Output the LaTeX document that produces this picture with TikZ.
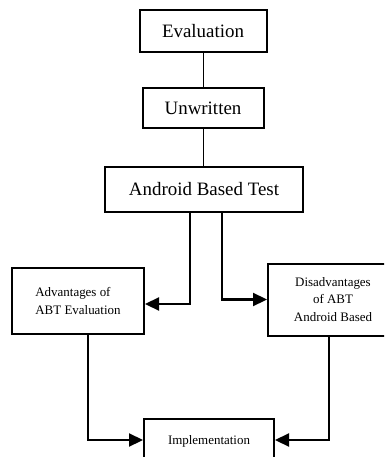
\documentclass[tikz,border=0pt]{standalone}
\usepackage{fontspec}
\setmainfont{Liberation Serif}
\usetikzlibrary{arrows.meta}
\begin{document}
\begin{tikzpicture}[x=1bp,y=-1bp,
  bigbox/.style={draw, line width=2bp, inner sep=0pt, font=\fontsize{19}{22}\selectfont},
  smallbox/.style={draw, line width=2bp, inner sep=0pt, align=center, font=\fontsize{13}{17.5}\selectfont},
  thin/.style={line width=1bp},
  arr/.style={line width=2.2bp, -{Triangle[length=14bp,width=13bp]}}]
\useasboundingbox (0,0) rectangle (384,457);
\clip (0,0) rectangle (384,457);
\node[bigbox, minimum width=127bp, minimum height=42bp] (eval) at (203,31) {Evaluation};
\node[bigbox, minimum width=121bp, minimum height=40bp] (unw) at (203,108) {Unwritten};
\node[bigbox, minimum width=198bp, minimum height=45bp] (abt) at (204,189.5) {Android Based Test};
\node[smallbox, align=left, minimum width=132bp, minimum height=66bp] (adv) at (78,301) {Advantages of\\ABT Evaluation};
\node[smallbox, minimum width=130bp, minimum height=72bp] (dis) at (333,299.5) {Disadvantages\\of ABT\\Android Based};
\node[smallbox, minimum width=130bp, minimum height=44bp] (impl) at (209,441) {Implementation};
\draw[thin] (eval.south) -- (unw.north);
\draw[thin] (unw.south) -- ([xshift=-1bp]abt.north);
\draw[arr] ([xshift=-14bp]abt.south) |- ([yshift=-3bp]adv.east);
\draw[arr] ([xshift=18bp]abt.south) |- (dis.west);
\draw[arr] ([xshift=10bp]adv.south) |- ([yshift=1bp]impl.west);
\draw[arr] ([xshift=-4bp]dis.south) |- ([yshift=1bp]impl.east);
\end{tikzpicture}
\end{document}
